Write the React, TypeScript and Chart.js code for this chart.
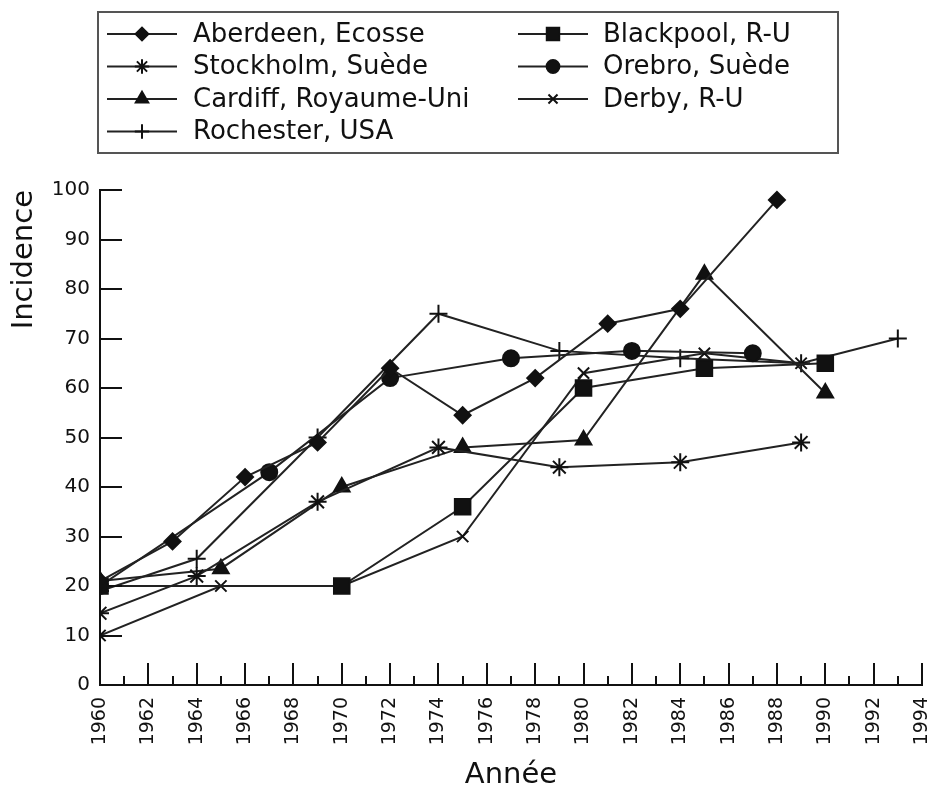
import React, { useEffect, useRef } from "react";
import { Chart, registerables } from "chart.js";
import { drawPoint } from "chart.js/helpers";

Chart.register(...registerables);

const seriesNames = [
  "Aberdeen, Ecosse",
  "Blackpool, R-U",
  "Stockholm, Suède",
  "Orebro, Suède",
  "Cardiff, Royaume-Uni",
  "Derby, R-U",
  "Rochester, USA",
];

const aberdeenYears = [1960, 1963, 1966, 1969, 1972, 1975, 1978, 1981, 1984, 1988];
const aberdeenValues = [21, 29, 42, 49, 64, 54.5, 62, 73, 76, 98];
const blackpoolYears = [1960, 1970, 1975, 1980, 1985, 1990];
const blackpoolValues = [20, 20, 36, 60, 64, 65];
const stockholmYears = [1960, 1964, 1969, 1974, 1979, 1984, 1989];
const stockholmValues = [14.5, 22, 37, 48, 44, 45, 49];
const orebroYears = [1960, 1967, 1972, 1977, 1982, 1987];
const orebroValues = [20, 43, 62, 66, 67.5, 67];
const cardiffYears = [1960, 1965, 1970, 1975, 1980, 1985, 1990];
const cardiffValues = [21, 23.5, 40, 48, 49.5, 83, 59];
const derbyYears = [1960, 1965, 1970, 1975, 1980, 1985, 1989];
const derbyValues = [10, 20, 20, 30, 63, 67, 65];
const rochesterYears = [1960, 1964, 1969, 1974, 1979, 1984, 1989, 1993];
const rochesterValues = [19, 25.5, 50, 75, 67.5, 66, 65, 70];

const yearTicksMin = 1960;
const yearTicksMax = 1994;
const incidenceMin = 0;
const incidenceMax = 100;

const seriesYears = [aberdeenYears, blackpoolYears, stockholmYears, orebroYears, cardiffYears, derbyYears, rochesterYears];
const seriesValues = [aberdeenValues, blackpoolValues, stockholmValues, orebroValues, cardiffValues, derbyValues, rochesterValues];
const seriesStyles = ["rectRot", "rect", "star", "circle", "triangle", "crossRot", "cross"];
const seriesRadius = [8, 11, 9, 8, 9, 8, 9];

const FONT = "'DejaVu Sans', Verdana, sans-serif";
const INK = "#111";
const LINE = "#222";

const legendPlugin = {
  id: "customLegend",
  afterDraw(chart: any) {
    const ctx = chart.ctx;
    ctx.save();
    ctx.strokeStyle = "#555";
    ctx.lineWidth = 2;
    ctx.strokeRect(98, 12, 740, 141);
    ctx.font = `26px ${FONT}`;
    ctx.textBaseline = "middle";
    ctx.fillStyle = INK;
    chart.data.datasets.forEach((ds: any, i: number) => {
      const col = i % 2;
      const row = Math.floor(i / 2);
      const y = 34 + row * 32.5;
      const lx = col ? 518 : 107;
      ctx.strokeStyle = LINE;
      ctx.lineWidth = 2;
      ctx.beginPath();
      ctx.moveTo(lx, y);
      ctx.lineTo(lx + 70, y);
      ctx.stroke();
      ctx.fillStyle = INK;
      ctx.strokeStyle = INK;
      drawPoint(ctx, { pointStyle: ds.pointStyle, radius: ds.pointRadius * 0.8, rotation: 0, borderWidth: 2 }, lx + 35, y);
      ctx.fillStyle = INK;
      ctx.fillText(ds.label, col ? 603 : 193, y + 1);
    });
    ctx.restore();
  },
};

const ticksPlugin = {
  id: "innerTicks",
  afterDatasetsDraw(chart: any) {
    const ctx = chart.ctx;
    const xs = chart.scales.x;
    const ys = chart.scales.y;
    const { left, bottom } = chart.chartArea;
    ctx.save();
    ctx.strokeStyle = INK;
    ctx.lineWidth = 2;
    ctx.beginPath();
    for (let yr = yearTicksMin; yr <= yearTicksMax; yr++) {
      const px = Math.round(xs.getPixelForValue(yr));
      const len = yr % 2 === 0 ? 22 : 9;
      ctx.moveTo(px, bottom);
      ctx.lineTo(px, bottom - len);
    }
    for (let v = incidenceMin; v <= incidenceMax; v += 10) {
      const py = Math.round(ys.getPixelForValue(v));
      ctx.moveTo(left, py);
      ctx.lineTo(left + 22, py);
    }
    ctx.stroke();
    ctx.restore();
  },
};

export default function App() {
  const ref = useRef<HTMLCanvasElement | null>(null);
  useEffect(() => {
    document.body.style.margin = "0";
    const datasets = seriesNames.map((name, i) => ({
      label: name,
      data: seriesYears[i].map((yr, j) => ({ x: yr, y: seriesValues[i][j] })),
      borderColor: LINE,
      borderWidth: 2,
      backgroundColor: INK,
      pointBackgroundColor: INK,
      pointBorderColor: INK,
      pointBorderWidth: 2,
      pointStyle: seriesStyles[i],
      pointRadius: seriesRadius[i],
      tension: 0,
    }));
    const chart = new Chart(ref.current as HTMLCanvasElement, {
      type: "line",
      data: { datasets },
      options: {
        animation: false,
        responsive: false,
        layout: { padding: { top: 190, right: 13, bottom: 0, left: 0 } },
        plugins: { legend: { display: false }, tooltip: { enabled: false } },
        scales: {
          x: {
            type: "linear",
            min: yearTicksMin,
            max: yearTicksMax,
            grid: { display: false },
            border: { display: true, color: INK, width: 2 },
            ticks: {
              stepSize: 2,
              autoSkip: false,
              maxRotation: 90,
              minRotation: 90,
              padding: 4,
              color: INK,
              font: { family: FONT, size: 19 },
              callback: (v: any) => String(v),
            },
            title: { display: true, text: "Année", color: INK, font: { family: FONT, size: 29, lineHeight: 0.8 }, padding: { top: 0, bottom: 0 } },
            afterFit: (s: any) => {
              s.height = 102;
              s.paddingLeft = 0;
              s.paddingRight = 0;
            },
          },
          y: {
            min: incidenceMin,
            max: incidenceMax,
            grid: { display: false },
            border: { display: true, color: INK, width: 2 },
            ticks: { stepSize: 10, padding: 2, color: INK, font: { family: FONT, size: 20 } },
            title: { display: true, text: "Incidence", align: "end", color: INK, font: { family: FONT, size: 29, lineHeight: 0.8 }, padding: { top: 13, bottom: 0 } },
            afterFit: (s: any) => {
              s.width = 100;
              s.paddingTop = 0;
              s.paddingBottom = 0;
            },
          },
        },
      },
      plugins: [legendPlugin, ticksPlugin],
    } as any);
    return () => chart.destroy();
  }, []);
  return (
    <div style={{ width: 935, height: 787, background: "#fff" }}>
      <canvas ref={ref} width={935} height={787} style={{ display: "block" }} />
    </div>
  );
}
